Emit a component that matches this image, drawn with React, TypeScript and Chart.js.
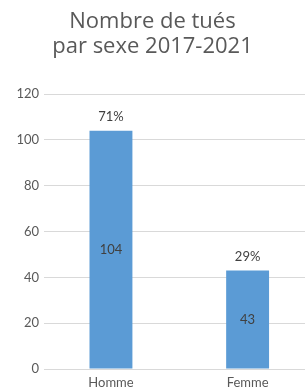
import React, { useEffect, useRef } from "react";
import { Chart, registerables } from "chart.js";

Chart.register(...registerables);

const categories = ["Homme", "Femme"];
const values = [104, 43];
const yTicks = [0, 20, 40, 60, 80, 100, 120];
const titleLines = ["Nombre de tués", "par sexe 2017-2021"];

const FONT = "Lato, 'Open Sans', sans-serif";
const TITLE_FONT = "'Open Sans', Lato, sans-serif";

const labelsPlugin = {
  id: "barLabels",
  afterDatasetsDraw(chart: any) {
    const ctx = chart.ctx;
    const meta = chart.getDatasetMeta(0);
    const total = values.reduce((a, b) => a + b, 0);
    ctx.save();
    ctx.font = `13px ${FONT}`;
    ctx.fillStyle = "#404040";
    ctx.textAlign = "center";
    ctx.textBaseline = "middle";
    meta.data.forEach((bar: any, i: number) => {
      const v = values[i];
      ctx.fillText(String(v), bar.x, (bar.y + bar.base) / 2);
      ctx.fillText(Math.round((v / total) * 100) + "%", bar.x, bar.y - 14);
    });
    ctx.restore();
  },
};

export default function App() {
  const ref = useRef<HTMLCanvasElement>(null);
  useEffect(() => {
    if (!ref.current) return;
    const chart = new Chart(ref.current, {
      type: "bar",
      data: {
        datasets: [
          {
            data: values.map((v, i) => ({ x: i, y: v })),
            backgroundColor: "#5B9BD5",
            categoryPercentage: 1,
            barPercentage: 0.314,
          },
        ],
      },
      options: {
        animation: false,
        responsive: false,
        layout: { padding: 0 },
        plugins: {
          legend: { display: false },
          tooltip: { enabled: false },
          title: {
            display: true,
            text: titleLines,
            color: "#595959",
            font: { family: TITLE_FONT, size: 22, weight: "normal" as any, lineHeight: 1.14 },
            padding: { top: 9, bottom: 35 },
          },
        },
        scales: {
          x: {
            type: "linear",
            min: -0.49,
            max: 1.42,
            offset: false,
            bounds: "data",
            grid: { display: false, offset: false, drawTicks: false },
            border: { display: false },
            afterBuildTicks: (scale: any) => {
              scale.ticks = categories.map((_, i) => ({ value: i }));
            },
            afterFit: (scale: any) => {
              scale.height = 20;
            },
            ticks: {
              color: "#595959",
              padding: 6,
              maxRotation: 0,
              autoSkip: false,
              font: { family: FONT, size: 13 },
              callback: (v: any) => categories[v] ?? "",
            },
          },
          y: {
            min: 0,
            max: 120,
            afterBuildTicks: (scale: any) => {
              scale.ticks = yTicks.map((v) => ({ value: v }));
            },
            afterFit: (scale: any) => {
              scale.width = 44;
            },
            grid: { color: "#D9D9D9", drawTicks: false, lineWidth: 1 },
            border: { display: false },
            ticks: {
              color: "#595959",
              padding: 5,
              font: { family: FONT, size: 13 },
            },
          },
        },
      },
      plugins: [labelsPlugin],
    });
    return () => chart.destroy();
  }, []);
  return (
    <div style={{ position: "absolute", left: 0, top: 0, width: 305, height: 389, background: "#fff" }}>
      <canvas ref={ref} width={305} height={389} style={{ display: "block" }} />
    </div>
  );
}
